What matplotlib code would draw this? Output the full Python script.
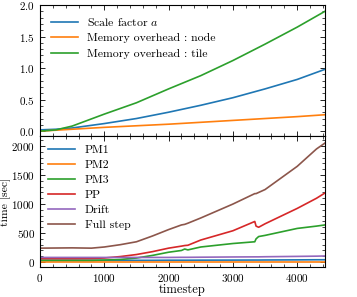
import matplotlib
matplotlib.use("Agg")
import matplotlib.pyplot as plt
from matplotlib.ticker import MultipleLocator

plt.rcParams.update({
    "font.family": "serif",
    "font.serif": ["cmr10", "DejaVu Serif"],
    "mathtext.fontset": "cm",
    "axes.formatter.use_mathtext": True,
    "font.size": 8,
    "xtick.direction": "in",
    "ytick.direction": "in",
    "xtick.top": True,
    "ytick.right": True,
    "axes.linewidth": 0.8,
})

# top panel: scale factor and memory overhead
steps_top = [0, 250, 500, 1000, 1500, 2000, 2500, 3000, 3500, 4000, 4430]
scale_a = [0.02, 0.03, 0.05, 0.12, 0.20, 0.30, 0.41, 0.53, 0.67, 0.82, 0.98]
mem_node = [0.0, 0.015, 0.03, 0.06, 0.085, 0.11, 0.14, 0.17, 0.20, 0.23, 0.26]
mem_tile = [0.0, 0.02, 0.08, 0.27, 0.45, 0.67, 0.88, 1.12, 1.38, 1.65, 1.90]

# bottom panel: timings [sec]
steps_bot = [0, 500, 800, 1000, 1250, 1500, 1750, 2000, 2200, 2250, 2300,
             2500, 3000, 3340, 3360, 3400, 3500, 4000, 4300, 4430]
pm1 = [30, 30, 30, 30, 30, 30, 30, 32, 32, 32, 32, 33, 34, 35, 35, 35, 36, 38, 40, 40]
pm2 = [5, 5, 5, 5, 5, 5, 5, 5, 5, 5, 5, 5, 5, 5, 5, 5, 5, 5, 5, 5]
pm3 = [30, 30, 30, 35, 45, 70, 115, 170, 200, 225, 210, 260, 320, 350, 400, 440, 460, 580, 620, 640]
pp = [60, 60, 62, 70, 95, 130, 180, 240, 275, 285, 290, 380, 540, 700, 620, 600, 660, 925, 1100, 1190]
drift = [80, 80, 80, 80, 80, 80, 80, 80, 82, 82, 82, 84, 88, 90, 90, 90, 92, 98, 102, 105]
full = [240, 245, 240, 260, 300, 350, 450, 560, 640, 650, 670, 760, 1000, 1180, 1180, 1200, 1250, 1650, 1950, 2050]

fig, (ax1, ax2) = plt.subplots(2, 1, figsize=(3.57, 2.97), dpi=100, sharex=True)
fig.subplots_adjust(left=0.112, right=0.91, top=0.983, bottom=0.1, hspace=0)

ax1.plot(steps_top, scale_a, lw=1.2, label="Scale factor $a$")
ax1.plot(steps_top, mem_node, lw=1.2, label="Memory overhead : node")
ax1.plot(steps_top, mem_tile, lw=1.2, label="Memory overhead : tile")
ax1.set_ylim(-0.08, 2.0)
ax1.yaxis.set_major_locator(MultipleLocator(0.5))
ax1.yaxis.set_minor_locator(MultipleLocator(0.1))
ax1.legend(loc="upper left", frameon=False, fontsize=8.5, handlelength=2.3,
           borderaxespad=0.5, labelspacing=0.45)

labels = ["PM1", "PM2", "PM3", "PP", "Drift", "Full step"]
colors = ["C0", "C1", "C2", "C3", "C4", "C5"]
for series, lab, c in zip([pm1, pm2, pm3, pp, drift, full], labels, colors):
    ax2.plot(steps_bot, series, lw=1.2, color=c, label=lab)
ax2.set_ylim(-90, 2170)
ax2.yaxis.set_major_locator(MultipleLocator(500))
ax2.yaxis.set_minor_locator(MultipleLocator(100))
ax2.set_xlim(0, 4430)
ax2.xaxis.set_major_locator(MultipleLocator(1000))
ax2.xaxis.set_minor_locator(MultipleLocator(200))
ax2.set_xlabel("timestep", fontsize=9, labelpad=0)
ax2.set_ylabel("time [sec]", fontsize=8.5)
ax2.yaxis.set_label_coords(-0.1, 0.5)
ax2.legend(loc="upper left", frameon=False, fontsize=8.5, handlelength=2.3,
           borderaxespad=0.3, labelspacing=0.4)

for ax in (ax1, ax2):
    ax.tick_params(which="major", length=3.5, width=0.6, labelsize=8)
    ax.tick_params(which="minor", length=2, width=0.5)

fig.savefig("out.png", dpi=100)
